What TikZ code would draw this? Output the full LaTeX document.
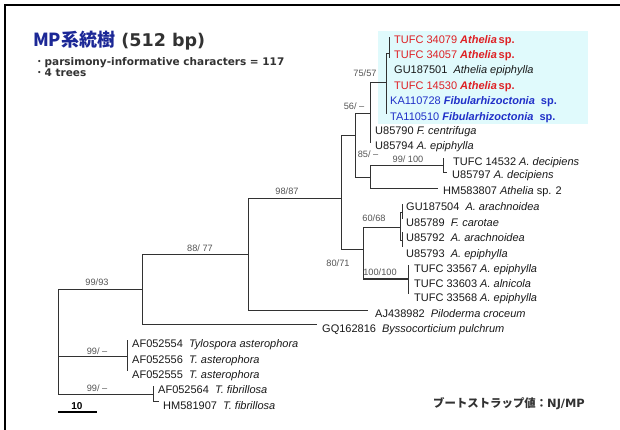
\documentclass[tikz,border=0pt]{standalone}
\usepackage{fontspec}
\setmainfont{Liberation Sans}
\newfontfamily\cjkfont{Noto Sans CJK JP}
\newfontfamily\dvfont{DejaVu Sans}
\definecolor{treec}{RGB}{50,50,50}
\definecolor{labc}{RGB}{25,25,25}
\definecolor{bsc}{RGB}{85,85,85}
\definecolor{hlc}{RGB}{224,250,252}
\definecolor{redc}{RGB}{222,32,36}
\definecolor{bluec}{RGB}{32,48,200}
\definecolor{titleblue}{RGB}{28,40,150}
\definecolor{titlegray}{RGB}{50,50,50}
\tikzset{
  br/.style={draw=treec, line width=0.9pt},
  thickbr/.style={draw=treec, line width=2pt},
  lab/.style={anchor=base west, inner sep=0pt, font=\fontsize{11}{12}\selectfont, text=labc},
  bs/.style={anchor=base, inner sep=0pt, font=\fontsize{9.2}{10}\selectfont, text=bsc},
  bullet/.style={anchor=base west, inner sep=0pt, font=\dvfont\bfseries\fontsize{10.5}{12}\selectfont, text=titlegray},
}
\begin{document}
\begin{tikzpicture}[x=1pt,y=-1pt]
\useasboundingbox (0,0) rectangle (620,430);
\fill[white] (0,0) rectangle (620,430);
% frame
\draw[line width=2.5pt, black] (620,5) -- (5,5) -- (5,430);
% highlight
\fill[hlc] (378,31) rectangle (588,124);
% title
\node[anchor=base west, inner sep=0pt] (title) at (33,47)
  {{\cjkfont\bfseries\fontsize{18}{20}\selectfont\color{titleblue}MP系統樹}{\dvfont\bfseries\fontsize{17.5}{20}\selectfont\color{titlegray}\ (512 bp)}};
\node[bullet] (b1) at (34,66) {{\cjkfont\mdseries ・}parsimony-informative characters = 117};
\node[bullet] (b2) at (34,77) {{\cjkfont\mdseries ・}4 trees};
% coordinates
\coordinate (root) at (58,340);
\coordinate (n9993) at (142,289);
\coordinate (ntyl) at (127,356);
\coordinate (nfib) at (153,394);
\coordinate (n8877) at (248,254);
\coordinate (lGQ) at (317,324);
\coordinate (n9887) at (341,198);
\coordinate (lAJ) at (368,310);
\coordinate (nP) at (355,135);
\coordinate (n8071) at (363,249);
\coordinate (nQ) at (370,113);
\coordinate (nR) at (370,177);
\coordinate (nS) at (386,82);
\coordinate (lU790) at (370,129);
\coordinate (lU794) at (370,143);
\coordinate (nT) at (389,53);
\coordinate (lT079) at (389,37);
\coordinate (lT057) at (389,58);
\coordinate (lGU501) at (386,67);
\coordinate (lT530) at (386,83);
\coordinate (lKA) at (386,98);
\coordinate (lTA) at (386,114);
\coordinate (n99100) at (443,165);
\coordinate (lHM807) at (438,188);
\coordinate (lT532) at (443,158);
\coordinate (lU797) at (447,172);
\coordinate (n6068) at (400,227);
\coordinate (n100) at (408,279);
\coordinate (nA) at (402,212);
\coordinate (lGU504) at (402,204);
\coordinate (lU789) at (402,219);
\coordinate (nB) at (402,240);
\coordinate (lU792) at (402,232);
\coordinate (lU793) at (402,247);
\coordinate (lT567) at (408,265);
\coordinate (lT603) at (408,280);
\coordinate (lT568) at (408,294);
\coordinate (lAF554) at (127,340);
\coordinate (lAF556) at (127,356);
\coordinate (lAF555) at (127,371);
\coordinate (lAF564) at (153,386);
\coordinate (lHM907) at (159,401);
% branches
\draw[br] (root) |- (n9993);
\draw[br] (root) |- (ntyl);
\draw[br] (root) |- (nfib);
\draw[br] (n9993) |- (n8877);
\draw[br] (n9993) |- (lGQ);
\draw[br] (n8877) |- (n9887);
\draw[br] (n8877) |- (lAJ);
\draw[br] (n9887) |- (nP);
\draw[br] (n9887) |- (n8071);
\draw[br] (nP) |- (nQ);
\draw[br] (nP) |- (nR);
\draw[br] (nQ) |- (nS);
\draw[br] (nQ) |- (lU790);
\draw[br] (nQ) |- (lU794);
\draw[br] (nS) |- (nT);
\draw[br] (nS) |- (lGU501);
\draw[br] (nS) |- (lT530);
\draw[br] (nS) |- (lKA);
\draw[br] (nS) |- (lTA);
\draw[br] (nT) |- (lT079);
\draw[br] (nT) |- (lT057);
\draw[br] (nR) |- (n99100);
\draw[br] (nR) |- (lHM807);
\draw[br] (n99100) |- (lT532);
\draw[br] (n99100) |- (lU797);
\draw[br] (n8071) |- (n6068);
\draw[br] (n8071) -- (n8071 |- n100);
\draw[thickbr] (n8071 |- n100) -- (n100);
\draw[br] (n6068) |- (nA);
\draw[br] (n6068) |- (nB);
\draw[br] (nA) |- (lGU504);
\draw[br] (nA) |- (lU789);
\draw[br] (nB) |- (lU792);
\draw[br] (nB) |- (lU793);
\draw[br] (n100) |- (lT567);
\draw[br] (n100) |- (lT603);
\draw[br] (n100) |- (lT568);
\draw[br] (ntyl) |- (lAF554);
\draw[br] (ntyl) |- (lAF556);
\draw[br] (ntyl) |- (lAF555);
\draw[br] (nfib) |- (lAF564);
\draw[br] (nfib) |- (lHM907);
% leaf labels
\node[lab, text=redc] (t079) at (394,44) {TUFC 34079 \textbf{\textit{Athelia}}\,\textbf{sp.}};
\node[lab, text=redc] (t057) at (394,59) {TUFC 34057 \textbf{\textit{Athelia}}\,\textbf{sp.}};
\node[lab] (gu501) at (394,74) {GU187501\ \ \textit{Athelia epiphylla}};
\node[lab, text=redc] (t530) at (394,90) {TUFC 14530 \textbf{\textit{Athelia}}\,\textbf{sp.}};
\node[lab, text=bluec] (ka) at (390,105) {KA110728 \textbf{\textit{Fibularhizoctonia}}\ \ \textbf{sp.}};
\node[lab, text=bluec] (ta) at (390,121) {TA110510 \textbf{\textit{Fibularhizoctonia}}\ \ \textbf{sp.}};
\node[lab] (u790) at (375,135) {U85790 \textit{F. centrifuga}};
\node[lab] (u794) at (375,150) {U85794 \textit{A. epiphylla}};
\node[lab] (t532) at (453,166) {TUFC 14532 \textit{A. decipiens}};
\node[lab] (u797) at (452,179) {U85797 \textit{A. decipiens}};
\node[lab] (hm807) at (443,195) {HM583807 \textit{Athelia} sp. 2};
\node[lab] (gu504) at (406,211) {GU187504\ \ \textit{A. arachnoidea}};
\node[lab] (u789) at (406,226) {U85789\ \ \textit{F. carotae}};
\node[lab] (u792) at (406,241) {U85792\ \ \textit{A. arachnoidea}};
\node[lab] (u793) at (406,257) {U85793\ \ \textit{A. epiphylla}};
\node[lab] (t567) at (414,272) {TUFC 33567 \textit{A. epiphylla}};
\node[lab] (t603) at (414,287) {TUFC 33603 \textit{A. alnicola}};
\node[lab] (t568) at (414,301) {TUFC 33568 \textit{A. epiphylla}};
\node[lab] (aj) at (375,317) {AJ438982\ \ \textit{Piloderma croceum}};
\node[lab] (gq) at (322,332) {GQ162816\ \ \textit{Byssocorticium pulchrum}};
\node[lab] (af554) at (132,347) {AF052554\ \ \textit{Tylospora asterophora}};
\node[lab] (af556) at (132,363) {AF052556\ \ \textit{T. asterophora}};
\node[lab] (af555) at (132,378) {AF052555\ \ \textit{T. asterophora}};
\node[lab] (af564) at (158,393) {AF052564\ \ \textit{T. fibrillosa}};
\node[lab] (hm907) at (163,409) {HM581907\ \ \textit{T. fibrillosa}};
% bootstrap values
\node[bs] (s1) at (97,285) {99/93};
\node[bs] (s2) at (97,354) {99/ –};
\node[bs] (s3) at (97,391) {99/ –};
\node[bs] (s4) at (200,251) {88/ 77};
\node[bs] (s5) at (287,195) {98/87};
\node[bs] (s6) at (365,77) {75/57};
\node[bs] (s7) at (354,110) {56/ –};
\node[bs] (s8) at (368,158) {85/ –};
\node[bs] (s9) at (408,163) {99/ 100};
\node[bs] (s10) at (374,222) {60/68};
\node[bs] (s11) at (338,266) {80/71};
\node[bs] (s12) at (380,275) {100/100};
% scale bar
\coordinate (sb1) at (58,412);
\coordinate (sb2) at (97,412);
\draw[draw=black, line width=1.2pt] (sb1) -- (sb2);
\node[anchor=base, inner sep=0pt, font=\bfseries\fontsize{10}{12}\selectfont] (sbl) at (77,409) {10};
% legend
\node[anchor=base west, inner sep=0pt, text=titlegray] (legend) at (433,407)
  {{\cjkfont\bfseries\fontsize{11.4}{12}\selectfont ブートストラップ値：}{\dvfont\bfseries\fontsize{11.4}{12}\selectfont NJ/MP}};
\end{tikzpicture}
\end{document}
